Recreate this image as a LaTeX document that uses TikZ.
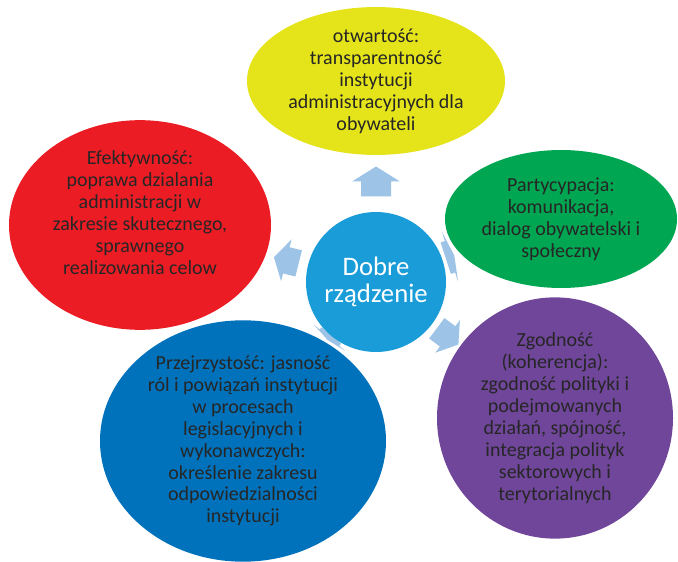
\documentclass[tikz,border=0pt]{standalone}
\usepackage{fontspec}
\setmainfont{Carlito}
\usetikzlibrary{shapes.geometric,calc,backgrounds}

\definecolor{centerblue}{HTML}{1A9CD8}
\definecolor{arrowblue}{HTML}{9DC3E6}
\definecolor{yellowc}{HTML}{E5E41A}
\definecolor{greenc}{HTML}{00A651}
\definecolor{redc}{HTML}{EC1C24}
\definecolor{bluec}{HTML}{0072BC}
\definecolor{purplec}{HTML}{70469A}
\definecolor{textgray}{HTML}{262626}

\tikzset{
  satellite/.style={ellipse, inner sep=0pt, text=textgray, align=center,
    font=\fontsize{14.2}{15.6}\selectfont},
  blockarrow/.pic={
    \fill[arrowblue] (-0.375,-0.375) -- (0,-0.375) -- (0,-0.6) -- (0.375,0)
      -- (0,0.6) -- (0,0.375) -- (-0.375,0.375) -- cycle;
  }
}

\begin{document}
\begin{tikzpicture}
\useasboundingbox (0,0) rectangle (16.95,14.025);

\node [circle, fill=centerblue, minimum size=3.5cm, inner sep=0pt, text=white,
  align=center, font=\fontsize{19}{19.2}\selectfont] (dobre) at (9.4,6.975)
  {Dobre\\rządzenie};

\node [satellite, fill=yellowc, minimum width=6.45cm, minimum height=3.55cm]
  (otwartosc) at (9.4,12.0)
  {otwartość:\\transparentność\\instytucji\\administracyjnych dla\\obywateli};

\node [satellite, fill=greenc, minimum width=5.8cm, minimum height=3.45cm]
  (partycypacja) at (14.025,8.55)
  {Partycypacja:\\komunikacja,\\dialog obywatelski i\\społeczny};

\node [satellite, fill=redc, minimum width=6.55cm, minimum height=4.6cm]
  (efektywnosc) at (3.5,8.4)
  {Efektywność:\\poprawa dzialania\\administracji w\\zakresie skutecznego,\\sprawnego\\realizowania celow\\[2pt]};

\node [satellite, fill=bluec, minimum width=7.15cm, minimum height=5.9cm]
  (przejrzystosc) at (6.075,3.0)
  {Przejrzystość: jasność\\ról i powiązań instytucji\\w procesach\\legislacyjnych i\\wykonawczych:\\określenie zakresu\\odpowiedzialności\\instytucji};

\node [satellite, fill=purplec, minimum width=5.9cm, minimum height=5.75cm]
  (zgodnosc) at (13.875,3.575)
  {Zgodność\\(koherencja):\\zgodność polityki i\\podejmowanych\\działań, spójność,\\integracja polityk\\sektorowych i\\terytorialnych};

% arrows from the middle
\begin{scope}[on background layer]
\pic [rotate=90] at ($(dobre)!0.5!(otwartosc)$) {blockarrow};
\pic [rotate=18, xscale=0.3, yscale=1.1] at ($(dobre)!0.4!(partycypacja)$) {blockarrow};
\pic [rotate=166, xscale=0.85, yscale=0.9] at ($(dobre)!0.38!(efektywnosc)$) {blockarrow};
\pic [rotate=-37, xscale=0.9, yscale=0.85] at ($(dobre)!0.4!(zgodnosc)$) {blockarrow};
\pic [rotate=-130, xscale=0.2, yscale=0.85] at ($(dobre)!0.35!(przejrzystosc)$) {blockarrow};
\end{scope}

\end{tikzpicture}
\end{document}
